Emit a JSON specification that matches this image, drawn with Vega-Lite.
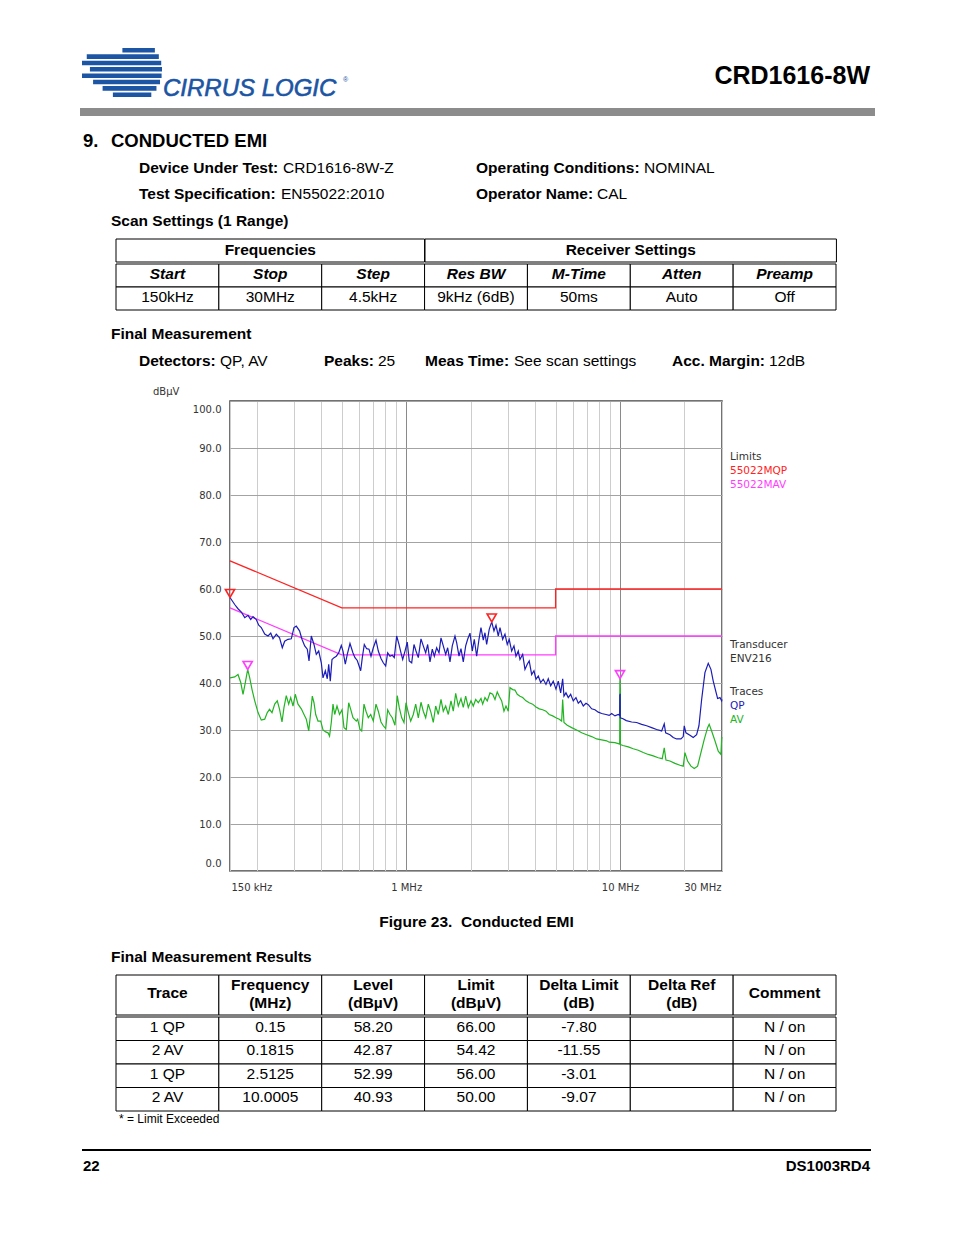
{
"$schema": "https://vega.github.io/schema/vega-lite/v6.json",
"padding": 0,
"spacing": 0,
"background": "white",
"config": {
  "view": {"stroke": null},
  "concat": {"spacing": 0},
  "text": {"font": "Liberation Sans", "fontSize": 15.5, "color": "#000000", "align": "left", "baseline": "bottom"},
  "axis": {"labelFont": "DejaVu Sans", "labelFontSize": 10, "labelColor": "#333333"}
},
"datasets": {
  "logo": [
    {"stripe": 1, "start": 51, "end": 92},
    {"stripe": 2, "start": 6, "end": 97},
    {"stripe": 3, "start": 0, "end": 100},
    {"stripe": 4, "start": 10, "end": 101},
    {"stripe": 5, "start": 0, "end": 100.5},
    {"stripe": 6, "start": 14, "end": 98.5},
    {"stripe": 7, "start": 26, "end": 94},
    {"stripe": 8, "start": 39, "end": 87.5}
  ],
  "results": [
    {"n": 1, "Trace": "1 QP", "Frequency": "0.15", "Level": "58.20", "Limit": "66.00", "Delta Limit": "-7.80", "Delta Ref": "", "Comment": "N / on"},
    {"n": 2, "Trace": "2 AV", "Frequency": "0.1815", "Level": "42.87", "Limit": "54.42", "Delta Limit": "-11.55", "Delta Ref": "", "Comment": "N / on"},
    {"n": 3, "Trace": "1 QP", "Frequency": "2.5125", "Level": "52.99", "Limit": "56.00", "Delta Limit": "-3.01", "Delta Ref": "", "Comment": "N / on"},
    {"n": 4, "Trace": "2 AV", "Frequency": "10.0005", "Level": "40.93", "Limit": "50.00", "Delta Limit": "-9.07", "Delta Ref": "", "Comment": "N / on"}
  ],
  "limits": [
    {"series": "55022MQP", "i": 1, "f": 0.15, "dB": 66},
    {"series": "55022MQP", "i": 2, "f": 0.5, "dB": 56},
    {"series": "55022MQP", "i": 3, "f": 5, "dB": 56},
    {"series": "55022MQP", "i": 4, "f": 5, "dB": 60},
    {"series": "55022MQP", "i": 5, "f": 30, "dB": 60},
    {"series": "55022MAV", "i": 1, "f": 0.15, "dB": 56},
    {"series": "55022MAV", "i": 2, "f": 0.5, "dB": 46},
    {"series": "55022MAV", "i": 3, "f": 5, "dB": 46},
    {"series": "55022MAV", "i": 4, "f": 5, "dB": 50},
    {"series": "55022MAV", "i": 5, "f": 30, "dB": 50}
  ],
  "peaks": [
    {"trace": "1 QP", "series": "55022MQP", "f": 0.15, "dB": 58.2},
    {"trace": "2 AV", "series": "55022MAV", "f": 0.1815, "dB": 42.87},
    {"trace": "1 QP", "series": "55022MQP", "f": 2.5125, "dB": 52.99},
    {"trace": "2 AV", "series": "55022MAV", "f": 10.0005, "dB": 40.93}
  ],
  "chartlabels": [
    {"text": "Limits", "line": 0, "dB": 90, "series": "info"},
    {"text": "55022MQP", "line": 1, "dB": 90, "series": "55022MQP"},
    {"text": "55022MAV", "line": 2, "dB": 90, "series": "55022MAV"},
    {"text": "Transducer", "line": 0, "dB": 50, "series": "info"},
    {"text": "ENV216", "line": 1, "dB": 50, "series": "info"},
    {"text": "Traces", "line": 0, "dB": 40, "series": "info"},
    {"text": "QP", "line": 1, "dB": 40, "series": "QP"},
    {"text": "AV", "line": 2, "dB": 40, "series": "AV"}
  ],
  "traces": [
    {"series":"AV","f":0.15,"dB":41.1},{"series":"AV","f":0.1578,"dB":41.3},{"series":"AV","f":0.1635,"dB":41.8},{"series":"AV","f":0.1684,"dB":40.1},{"series":"AV","f":0.1726,"dB":37.6},{"series":"AV","f":0.1769,"dB":40.1},{"series":"AV","f":0.1815,"dB":42.9},{"series":"AV","f":0.1855,"dB":41.1},{"series":"AV","f":0.1902,"dB":38.6},{"series":"AV","f":0.1958,"dB":36.2},
    {"series":"AV","f":0.2029,"dB":33.7},{"series":"AV","f":0.2101,"dB":32.1},{"series":"AV","f":0.218,"dB":32.3},{"series":"AV","f":0.2241,"dB":33.7},{"series":"AV","f":0.2296,"dB":34.4},{"series":"AV","f":0.2358,"dB":33.7},{"series":"AV","f":0.2428,"dB":35.5},{"series":"AV","f":0.2496,"dB":36.2},{"series":"AV","f":0.2558,"dB":34.4},{"series":"AV","f":0.2626,"dB":31.7},
    {"series":"AV","f":0.2683,"dB":34.8},{"series":"AV","f":0.275,"dB":37.3},{"series":"AV","f":0.2822,"dB":35.5},{"series":"AV","f":0.2884,"dB":36.9},{"series":"AV","f":0.2956,"dB":35.1},{"series":"AV","f":0.303,"dB":37.6},{"series":"AV","f":0.312,"dB":35.5},{"series":"AV","f":0.3233,"dB":34.5},{"series":"AV","f":0.3328,"dB":33.3},{"series":"AV","f":0.3412,"dB":32.3},
    {"series":"AV","f":0.3501,"dB":29.8},{"series":"AV","f":0.3577,"dB":33.7},{"series":"AV","f":0.3639,"dB":37.2},{"series":"AV","f":0.3706,"dB":35.8},{"series":"AV","f":0.3775,"dB":33.3},{"series":"AV","f":0.387,"dB":31.9},{"series":"AV","f":0.3984,"dB":31.9},{"series":"AV","f":0.4084,"dB":30.0},{"series":"AV","f":0.4204,"dB":29.6},{"series":"AV","f":0.431,"dB":29.4},
    {"series":"AV","f":0.4382,"dB":28.7},{"series":"AV","f":0.4465,"dB":31.6},{"series":"AV","f":0.4548,"dB":35.5},{"series":"AV","f":0.4632,"dB":33.3},{"series":"AV","f":0.4748,"dB":35.1},{"series":"AV","f":0.488,"dB":33.3},{"series":"AV","f":0.5011,"dB":34.3},{"series":"AV","f":0.512,"dB":30.5},{"series":"AV","f":0.5248,"dB":30.1},{"series":"AV","f":0.5386,"dB":35.8},
    {"series":"AV","f":0.5503,"dB":34.4},{"series":"AV","f":0.5641,"dB":32.6},{"series":"AV","f":0.5844,"dB":31.9},{"series":"AV","f":0.5931,"dB":32.3},{"series":"AV","f":0.6082,"dB":30.1},{"series":"AV","f":0.6195,"dB":29.8},{"series":"AV","f":0.635,"dB":35.5},{"series":"AV","f":0.6488,"dB":34.0},{"series":"AV","f":0.6651,"dB":32.6},{"series":"AV","f":0.6825,"dB":33.3},
    {"series":"AV","f":0.7019,"dB":31.9},{"series":"AV","f":0.7226,"dB":35.5},{"series":"AV","f":0.7408,"dB":34.0},{"series":"AV","f":0.7626,"dB":31.7},{"series":"AV","f":0.7816,"dB":30.9},{"series":"AV","f":0.8021,"dB":30.3},{"series":"AV","f":0.8194,"dB":34.3},{"series":"AV","f":0.8401,"dB":33.3},{"series":"AV","f":0.8612,"dB":32.6},{"series":"AV","f":0.8866,"dB":31.0},
    {"series":"AV","f":0.9086,"dB":37.3},{"series":"AV","f":0.928,"dB":34.8},{"series":"AV","f":0.953,"dB":32.6},{"series":"AV","f":0.9769,"dB":31.6},{"series":"AV","f":0.9982,"dB":35.8},{"series":"AV","f":1.0233,"dB":33.7},{"series":"AV","f":1.05,"dB":31.9},{"series":"AV","f":1.0797,"dB":33.3},{"series":"AV","f":1.1081,"dB":35.5},{"series":"AV","f":1.1397,"dB":32.6},
    {"series":"AV","f":1.1731,"dB":35.9},{"series":"AV","f":1.2024,"dB":34.0},{"series":"AV","f":1.234,"dB":32.6},{"series":"AV","f":1.2691,"dB":35.5},{"series":"AV","f":1.3065,"dB":33.7},{"series":"AV","f":1.3392,"dB":31.6},{"series":"AV","f":1.3743,"dB":35.1},{"series":"AV","f":1.4135,"dB":33.3},{"series":"AV","f":1.455,"dB":36.5},{"series":"AV","f":1.4914,"dB":34.0},
    {"series":"AV","f":1.5305,"dB":35.1},{"series":"AV","f":1.5741,"dB":33.3},{"series":"AV","f":1.6203,"dB":36.2},{"series":"AV","f":1.6609,"dB":34.0},{"series":"AV","f":1.7045,"dB":37.8},{"series":"AV","f":1.753,"dB":35.1},{"series":"AV","f":1.8045,"dB":36.7},{"series":"AV","f":1.8497,"dB":34.8},{"series":"AV","f":1.8982,"dB":37.2},{"series":"AV","f":1.9523,"dB":34.8},
    {"series":"AV","f":2.0097,"dB":36.2},{"series":"AV","f":2.06,"dB":35.1},{"series":"AV","f":2.1141,"dB":36.5},{"series":"AV","f":2.1743,"dB":35.8},{"series":"AV","f":2.2381,"dB":36.7},{"series":"AV","f":2.2795,"dB":35.5},{"series":"AV","f":2.3366,"dB":36.9},{"series":"AV","f":2.3947,"dB":36.2},{"series":"AV","f":2.4659,"dB":37.9},{"series":"AV","f":2.5386,"dB":37.6},
    {"series":"AV","f":2.6023,"dB":36.5},{"series":"AV","f":2.6669,"dB":38.1},{"series":"AV","f":2.7238,"dB":37.2},{"series":"AV","f":2.797,"dB":36.2},{"series":"AV","f":2.867,"dB":34.0},{"series":"AV","f":2.9296,"dB":35.1},{"series":"AV","f":3.0032,"dB":34.0},{"series":"AV","f":3.0584,"dB":39.0},{"series":"AV","f":3.1486,"dB":38.6},{"series":"AV","f":3.2275,"dB":38.5},
    {"series":"AV","f":3.3076,"dB":37.6},{"series":"AV","f":3.4061,"dB":37.2},{"series":"AV","f":3.5066,"dB":36.9},{"series":"AV","f":3.6336,"dB":36.2},{"series":"AV","f":3.7624,"dB":35.8},{"series":"AV","f":3.9052,"dB":35.5},{"series":"AV","f":4.0467,"dB":34.9},{"series":"AV","f":4.1931,"dB":34.5},{"series":"AV","f":4.3491,"dB":34.3},{"series":"AV","f":4.5067,"dB":34.0},
    {"series":"AV","f":4.6664,"dB":33.3},{"series":"AV","f":4.8436,"dB":33.0},{"series":"AV","f":5.0191,"dB":32.6},{"series":"AV","f":5.2007,"dB":32.3},{"series":"AV","f":5.3365,"dB":31.9},{"series":"AV","f":5.3942,"dB":36.5},{"series":"AV","f":5.4702,"dB":31.6},{"series":"AV","f":5.6666,"dB":31.0},{"series":"AV","f":5.9432,"dB":30.5},{"series":"AV","f":6.2699,"dB":30.0},
    {"series":"AV","f":6.6189,"dB":29.4},{"series":"AV","f":6.9828,"dB":29.0},{"series":"AV","f":7.3713,"dB":28.6},{"series":"AV","f":7.7766,"dB":28.1},{"series":"AV","f":8.2092,"dB":27.9},{"series":"AV","f":8.6606,"dB":27.7},{"series":"AV","f":8.9032,"dB":27.4},{"series":"AV","f":9.4727,"dB":27.3},{"series":"AV","f":9.8165,"dB":27.1},{"series":"AV","f":9.97,"dB":27.0},
    {"series":"AV","f":9.985,"dB":39.5},{"series":"AV","f":10.0005,"dB":40.9},{"series":"AV","f":10.015,"dB":27.5},{"series":"AV","f":10.03,"dB":39.0},{"series":"AV","f":10.045,"dB":26.9},{"series":"AV","f":10.33,"dB":26.7},{"series":"AV","f":10.932,"dB":26.4},{"series":"AV","f":11.535,"dB":26.0},{"series":"AV","f":12.175,"dB":25.7},{"series":"AV","f":12.847,"dB":25.2},
    {"series":"AV","f":13.559,"dB":24.8},{"series":"AV","f":14.306,"dB":24.5},{"series":"AV","f":15.1,"dB":24.1},{"series":"AV","f":15.764,"dB":23.9},{"series":"AV","f":16.108,"dB":26.2},{"series":"AV","f":16.405,"dB":23.6},{"series":"AV","f":17.126,"dB":23.4},{"series":"AV","f":18.073,"dB":22.9},{"series":"AV","f":19.073,"dB":22.5},{"series":"AV","f":19.762,"dB":22.3},
    {"series":"AV","f":20.128,"dB":25.2},{"series":"AV","f":20.715,"dB":23.4},{"series":"AV","f":21.471,"dB":22.3},{"series":"AV","f":22.25,"dB":21.8},{"series":"AV","f":23.07,"dB":22.3},{"series":"AV","f":23.912,"dB":25.2},{"series":"AV","f":24.78,"dB":28.0},{"series":"AV","f":25.693,"dB":30.5},{"series":"AV","f":26.13,"dB":31.2},{"series":"AV","f":26.832,"dB":29.8},
    {"series":"AV","f":27.802,"dB":27.7},{"series":"AV","f":28.811,"dB":25.5},{"series":"AV","f":29.657,"dB":24.8},{"series":"AV","f":29.883,"dB":28.1},{"series":"AV","f":30.0,"dB":28.5},
    {"series":"QP","f":0.15,"dB":58.2},{"series":"QP","f":0.1578,"dB":56.7},{"series":"QP","f":0.1635,"dB":55.8},{"series":"QP","f":0.1695,"dB":55.1},{"series":"QP","f":0.1758,"dB":53.9},{"series":"QP","f":0.1821,"dB":54.4},{"series":"QP","f":0.1875,"dB":53.5},{"series":"QP","f":0.1922,"dB":54.1},{"series":"QP","f":0.1991,"dB":53.5},{"series":"QP","f":0.2044,"dB":52.3},
    {"series":"QP","f":0.2101,"dB":51.8},{"series":"QP","f":0.218,"dB":50.4},{"series":"QP","f":0.2259,"dB":50.0},{"series":"QP","f":0.2326,"dB":50.6},{"series":"QP","f":0.2384,"dB":49.4},{"series":"QP","f":0.247,"dB":50.4},{"series":"QP","f":0.2558,"dB":49.6},{"series":"QP","f":0.2634,"dB":47.5},{"series":"QP","f":0.2703,"dB":48.9},{"series":"QP","f":0.2801,"dB":49.3},
    {"series":"QP","f":0.2902,"dB":49.4},{"series":"QP","f":0.2988,"dB":51.8},{"series":"QP","f":0.3063,"dB":52.1},{"series":"QP","f":0.3172,"dB":51.1},{"series":"QP","f":0.3257,"dB":49.3},{"series":"QP","f":0.3353,"dB":47.9},{"series":"QP","f":0.3448,"dB":47.2},{"series":"QP","f":0.3513,"dB":44.7},{"series":"QP","f":0.36,"dB":50.0},{"series":"QP","f":0.3706,"dB":48.2},
    {"series":"QP","f":0.3799,"dB":46.1},{"series":"QP","f":0.3899,"dB":46.8},{"series":"QP","f":0.401,"dB":44.3},{"series":"QP","f":0.4084,"dB":41.1},{"series":"QP","f":0.4187,"dB":42.6},{"series":"QP","f":0.4276,"dB":40.9},{"series":"QP","f":0.4342,"dB":44.0},{"series":"QP","f":0.4417,"dB":40.4},{"series":"QP","f":0.4499,"dB":45.0},{"series":"QP","f":0.4597,"dB":45.4},
    {"series":"QP","f":0.4712,"dB":45.7},{"series":"QP","f":0.4835,"dB":46.4},{"series":"QP","f":0.4973,"dB":48.0},{"series":"QP","f":0.5065,"dB":46.8},{"series":"QP","f":0.5192,"dB":44.0},{"series":"QP","f":0.5304,"dB":46.1},{"series":"QP","f":0.5461,"dB":48.4},{"series":"QP","f":0.5641,"dB":46.4},{"series":"QP","f":0.5763,"dB":45.4},{"series":"QP","f":0.5906,"dB":44.8},
    {"series":"QP","f":0.6128,"dB":42.6},{"series":"QP","f":0.6235,"dB":45.4},{"series":"QP","f":0.6371,"dB":48.2},{"series":"QP","f":0.6535,"dB":47.3},{"series":"QP","f":0.6701,"dB":47.2},{"series":"QP","f":0.6847,"dB":45.7},{"series":"QP","f":0.7019,"dB":47.5},{"series":"QP","f":0.7226,"dB":49.1},{"series":"QP","f":0.7408,"dB":46.8},{"series":"QP","f":0.7626,"dB":45.2},
    {"series":"QP","f":0.7816,"dB":44.3},{"series":"QP","f":0.8021,"dB":43.6},{"series":"QP","f":0.8194,"dB":46.4},{"series":"QP","f":0.8401,"dB":45.7},{"series":"QP","f":0.8612,"dB":45.9},{"series":"QP","f":0.88,"dB":45.4},{"series":"QP","f":0.9027,"dB":50.0},{"series":"QP","f":0.9256,"dB":48.2},{"series":"QP","f":0.9458,"dB":46.4},{"series":"QP","f":0.9633,"dB":45.0},
    {"series":"QP","f":0.9875,"dB":46.8},{"series":"QP","f":1.0119,"dB":48.7},{"series":"QP","f":1.0336,"dB":44.7},{"series":"QP","f":1.0614,"dB":44.3},{"series":"QP","f":1.088,"dB":48.2},{"series":"QP","f":1.1117,"dB":46.8},{"series":"QP","f":1.1397,"dB":45.4},{"series":"QP","f":1.1731,"dB":49.4},{"series":"QP","f":1.2024,"dB":47.9},{"series":"QP","f":1.234,"dB":46.4},
    {"series":"QP","f":1.2604,"dB":48.2},{"series":"QP","f":1.2925,"dB":44.5},{"series":"QP","f":1.3249,"dB":47.2},{"series":"QP","f":1.3539,"dB":45.7},{"series":"QP","f":1.3888,"dB":47.5},{"series":"QP","f":1.4241,"dB":46.4},{"series":"QP","f":1.455,"dB":49.6},{"series":"QP","f":1.4914,"dB":47.9},{"series":"QP","f":1.5305,"dB":46.1},{"series":"QP","f":1.5633,"dB":47.5},
    {"series":"QP","f":1.603,"dB":44.5},{"series":"QP","f":1.6432,"dB":47.9},{"series":"QP","f":1.6917,"dB":50.0},{"series":"QP","f":1.7224,"dB":48.6},{"series":"QP","f":1.7662,"dB":45.7},{"series":"QP","f":1.8045,"dB":47.3},{"series":"QP","f":1.8497,"dB":44.5},{"series":"QP","f":1.8982,"dB":47.9},{"series":"QP","f":1.9389,"dB":49.3},{"series":"QP","f":1.9882,"dB":50.6},
    {"series":"QP","f":2.0381,"dB":46.8},{"series":"QP","f":2.0827,"dB":49.3},{"series":"QP","f":2.1363,"dB":45.7},{"series":"QP","f":2.1906,"dB":49.3},{"series":"QP","f":2.2381,"dB":51.8},{"series":"QP","f":2.2941,"dB":49.1},{"series":"QP","f":2.3366,"dB":50.7},{"series":"QP","f":2.3792,"dB":48.2},{"series":"QP","f":2.4458,"dB":51.4},{"series":"QP","f":2.5125,"dB":53.0},
    {"series":"QP","f":2.5744,"dB":51.1},{"series":"QP","f":2.6306,"dB":52.3},{"series":"QP","f":2.6967,"dB":50.0},{"series":"QP","f":2.7462,"dB":51.8},{"series":"QP","f":2.8272,"dB":49.3},{"series":"QP","f":2.8981,"dB":50.4},{"series":"QP","f":2.97,"dB":48.2},{"series":"QP","f":3.0334,"dB":49.3},{"series":"QP","f":3.115,"dB":46.8},{"series":"QP","f":3.1931,"dB":47.9},
    {"series":"QP","f":3.2627,"dB":45.7},{"series":"QP","f":3.3447,"dB":46.8},{"series":"QP","f":3.4061,"dB":45.0},{"series":"QP","f":3.5066,"dB":46.1},{"series":"QP","f":3.5945,"dB":42.9},{"series":"QP","f":3.6837,"dB":44.0},{"series":"QP","f":3.7624,"dB":44.7},{"series":"QP","f":3.8635,"dB":41.8},{"series":"QP","f":3.9602,"dB":42.6},{"series":"QP","f":4.0467,"dB":40.8},
    {"series":"QP","f":4.1484,"dB":41.5},{"series":"QP","f":4.2566,"dB":40.1},{"series":"QP","f":4.377,"dB":40.8},{"series":"QP","f":4.5067,"dB":39.7},{"series":"QP","f":4.6199,"dB":40.9},{"series":"QP","f":4.7406,"dB":39.4},{"series":"QP","f":4.8746,"dB":40.4},{"series":"QP","f":5.0191,"dB":38.7},{"series":"QP","f":5.1452,"dB":40.4},{"series":"QP","f":5.2794,"dB":37.9},
    {"series":"QP","f":5.3942,"dB":40.9},{"series":"QP","f":5.4702,"dB":37.2},{"series":"QP","f":5.5896,"dB":37.9},{"series":"QP","f":5.73,"dB":36.9},{"series":"QP","f":5.8795,"dB":37.6},{"series":"QP","f":6.0459,"dB":36.2},{"series":"QP","f":6.225,"dB":36.9},{"series":"QP","f":6.3814,"dB":35.7},{"series":"QP","f":6.548,"dB":36.2},{"series":"QP","f":6.7332,"dB":35.1},
    {"series":"QP","f":6.9327,"dB":35.7},{"series":"QP","f":7.1069,"dB":35.4},{"series":"QP","f":7.3713,"dB":34.5},{"series":"QP","f":7.6377,"dB":34.3},{"series":"QP","f":7.915,"dB":33.8},{"series":"QP","f":8.2092,"dB":33.5},{"series":"QP","f":8.5985,"dB":33.3},{"series":"QP","f":8.9032,"dB":33.1},{"series":"QP","f":9.1424,"dB":33.5},{"series":"QP","f":9.4727,"dB":33.0},
    {"series":"QP","f":9.8165,"dB":33.3},{"series":"QP","f":9.97,"dB":33.1},{"series":"QP","f":9.985,"dB":37.5},{"series":"QP","f":10.0005,"dB":32.9},{"series":"QP","f":10.015,"dB":37.7},{"series":"QP","f":10.03,"dB":32.6},{"series":"QP","f":10.33,"dB":32.4},{"series":"QP","f":10.705,"dB":32.0},{"series":"QP","f":11.339,"dB":31.7},{"series":"QP","f":11.962,"dB":31.6},
    {"series":"QP","f":12.628,"dB":31.2},{"series":"QP","f":13.323,"dB":30.9},{"series":"QP","f":14.063,"dB":30.5},{"series":"QP","f":14.837,"dB":30.1},{"series":"QP","f":15.663,"dB":29.8},{"series":"QP","f":16.108,"dB":31.3},{"series":"QP","f":16.351,"dB":29.4},{"series":"QP","f":17.126,"dB":29.0},{"series":"QP","f":17.744,"dB":28.4},{"series":"QP","f":18.402,"dB":28.1},
    {"series":"QP","f":19.279,"dB":28.1},{"series":"QP","f":19.762,"dB":28.6},{"series":"QP","f":19.979,"dB":30.9},{"series":"QP","f":20.347,"dB":29.4},{"series":"QP","f":21.241,"dB":28.9},{"series":"QP","f":22.008,"dB":28.4},{"series":"QP","f":22.824,"dB":29.0},{"series":"QP","f":23.403,"dB":30.9},{"series":"QP","f":24.094,"dB":36.5},{"series":"QP","f":24.964,"dB":42.2},
    {"series":"QP","f":25.87,"dB":44.2},{"series":"QP","f":26.63,"dB":42.9},{"series":"QP","f":27.296,"dB":40.4},{"series":"QP","f":28.104,"dB":38.1},{"series":"QP","f":28.613,"dB":36.7},{"series":"QP","f":29.34,"dB":36.9},{"series":"QP","f":29.883,"dB":36.2},{"series":"QP","f":30.0,"dB":36.5}
  ]
},
"vconcat": [
  {"width": 954, "height": 48, "data": {"values": []}, "mark": "point"},
  {"hconcat": [
    {"width": 82, "height": 53, "data": {"values": []}, "mark": "point"},
    {"width": 80, "height": 49, "data": {"name": "logo"}, "mark": {"type": "bar", "color": "#1b55a3"},
     "encoding": {
       "y": {"field": "stripe", "type": "ordinal", "scale": {"type": "band", "paddingInner": 0.28, "paddingOuter": 0}, "axis": null},
       "x": {"field": "start", "type": "quantitative", "scale": {"domain": [0, 101]}, "axis": null},
       "x2": {"field": "end"}
     }},
    {"width": 1, "height": 53, "data": {"values": [{"text": "CIRRUS LOGIC"}]}, "mark": {"type": "text", "x": "width", "y": "height", "fontSize": 24, "fontStyle": "italic", "color": "#1b55a3", "stroke": "#1b55a3", "strokeWidth": 0.6}, "encoding": {"text": {"field": "text"}}},
    {"width": 180, "height": 53, "data": {"values": [{"text": "®"}]}, "mark": {"type": "text", "x": "width", "y": "height", "dy": -18, "fontSize": 7, "color": "#1b55a3"}, "encoding": {"text": {"field": "text"}}},
    {"width": 527, "height": 53, "data": {"values": [{"text": "CRD1616-8W"}]}, "mark": {"type": "text", "x": "width", "y": "height", "dy": -12, "align": "right", "fontSize": 25, "fontWeight": "bold"}, "encoding": {"text": {"field": "text"}}}
  ], "bounds": "flush", "spacing": 0},
  {"width": 1, "height": 7, "data": {"values": []}, "mark": "point"},
  {"hconcat": [
    {"width": 80, "height": 8, "data": {"values": []}, "mark": "point"},
    {"width": 795, "height": 8, "data": {"values": [{"part": "header rule"}]}, "mark": {"type": "rect", "color": "#8c8c8c"}}
  ], "bounds": "flush", "spacing": 0},
  {"hconcat": [
    {"width": 83, "height": 35, "data": {"values": [{"text": "9."}]}, "mark": {"type": "text", "x": "width", "y": "height", "fontSize": 18.5, "fontWeight": "bold"}, "encoding": {"text": {"field": "text"}}},
    {"width": 28, "height": 35, "data": {"values": [{"text": "CONDUCTED EMI"}]}, "mark": {"type": "text", "x": "width", "y": "height", "fontSize": 18.5, "fontWeight": "bold"}, "encoding": {"text": {"field": "text"}}}
  ], "bounds": "flush", "spacing": 0},
  {"hconcat": [
    {"width": 139, "height": 24.5, "data": {"values": [{"label": "Device Under Test:", "value": "CRD1616-8W-Z"}]}, "layer": [
      {"mark": {"type": "text", "x": "width", "y": "height", "fontWeight": "bold"}, "encoding": {"text": {"field": "label"}}},
      {"mark": {"type": "text", "x": "width", "y": "height", "dx": 144}, "encoding": {"text": {"field": "value"}}}]},
    {"width": 337, "height": 24.5, "data": {"values": [{"label": "Operating Conditions:", "value": "NOMINAL"}]}, "layer": [
      {"mark": {"type": "text", "x": "width", "y": "height", "fontWeight": "bold"}, "encoding": {"text": {"field": "label"}}},
      {"mark": {"type": "text", "x": "width", "y": "height", "dx": 168}, "encoding": {"text": {"field": "value"}}}]}
  ], "bounds": "flush", "spacing": 0},
  {"hconcat": [
    {"width": 139, "height": 25.5, "data": {"values": [{"label": "Test Specification:", "value": "EN55022:2010"}]}, "layer": [
      {"mark": {"type": "text", "x": "width", "y": "height", "fontWeight": "bold"}, "encoding": {"text": {"field": "label"}}},
      {"mark": {"type": "text", "x": "width", "y": "height", "dx": 142}, "encoding": {"text": {"field": "value"}}}]},
    {"width": 337, "height": 25.5, "data": {"values": [{"label": "Operator Name:", "value": "CAL"}]}, "layer": [
      {"mark": {"type": "text", "x": "width", "y": "height", "fontWeight": "bold"}, "encoding": {"text": {"field": "label"}}},
      {"mark": {"type": "text", "x": "width", "y": "height", "dx": 121}, "encoding": {"text": {"field": "value"}}}]}
  ], "bounds": "flush", "spacing": 0},
  {"width": 111, "height": 26.5, "data": {"values": [{"text": "Scan Settings (1 Range)"}]}, "mark": {"type": "text", "x": "width", "y": "height", "fontWeight": "bold"}, "encoding": {"text": {"field": "text"}}},
  {"width": 1, "height": 9, "data": {"values": []}, "mark": "point"},
  {"hconcat": [
    {"width": 116, "height": 23, "data": {"values": []}, "mark": "point"},
    {"width": 308.57, "height": 23, "data": {"values": [{"text": "Frequencies"}]}, "layer": [
      {"mark": {"type": "rect", "fill": "#ffffff", "stroke": "#000000", "strokeWidth": 1}},
      {"mark": {"type": "text", "align": "center", "baseline": "middle", "fontWeight": "bold", "dy": -1}, "encoding": {"text": {"field": "text"}}}]},
    {"width": 411.43, "height": 23, "data": {"values": [{"text": "Receiver Settings"}]}, "layer": [
      {"mark": {"type": "rect", "fill": "#ffffff", "stroke": "#000000", "strokeWidth": 1}},
      {"mark": {"type": "text", "align": "center", "baseline": "middle", "fontWeight": "bold", "dy": -1}, "encoding": {"text": {"field": "text"}}}]}
  ], "bounds": "flush", "spacing": 0},
  {"hconcat": [
    {"width": 116, "height": 46, "data": {"values": []}, "mark": "point"},
    {"width": 720, "height": 46,
     "data": {"values": [{"Start": "150kHz", "Stop": "30MHz", "Step": "4.5kHz", "Res BW": "9kHz (6dB)", "M-Time": "50ms", "Atten": "Auto", "Preamp": "Off"}]},
     "transform": [{"fold": ["Start", "Stop", "Step", "Res BW", "M-Time", "Atten", "Preamp"], "as": ["key", "value"]}],
     "encoding": {"x": {"field": "key", "type": "nominal", "sort": null, "scale": {"type": "band", "domain": ["Start", "Stop", "Step", "Res BW", "M-Time", "Atten", "Preamp"], "paddingInner": 0, "paddingOuter": 0}, "axis": null}},
     "layer": [
       {"mark": {"type": "rect", "fill": "#ffffff", "stroke": "#000000", "strokeWidth": 1}, "encoding": {"y": {"datum": "name", "type": "nominal", "scale": {"type": "band", "domain": ["name", "value"], "paddingInner": 0, "paddingOuter": 0}, "axis": null}}},
       {"mark": {"type": "rect", "fill": "#ffffff", "stroke": "#000000", "strokeWidth": 1}, "encoding": {"y": {"datum": "value", "type": "nominal"}}},
       {"mark": {"type": "text", "align": "center", "baseline": "middle", "fontWeight": "bold", "fontStyle": "italic", "dy": -2}, "encoding": {"y": {"datum": "name", "type": "nominal"}, "text": {"field": "key"}}},
       {"mark": {"type": "text", "align": "center", "baseline": "middle", "dy": -2}, "encoding": {"y": {"datum": "value", "type": "nominal"}, "text": {"field": "value"}}}
     ]}
  ], "bounds": "flush", "spacing": 0},
  {"width": 111, "height": 30.5, "data": {"values": [{"text": "Final Measurement"}]}, "mark": {"type": "text", "x": "width", "y": "height", "fontWeight": "bold"}, "encoding": {"text": {"field": "text"}}},
  {"hconcat": [
    {"width": 139, "height": 26.5, "data": {"values": [{"label": "Detectors:", "value": "QP, AV"}]}, "layer": [
      {"mark": {"type": "text", "x": "width", "y": "height", "fontWeight": "bold"}, "encoding": {"text": {"field": "label"}}},
      {"mark": {"type": "text", "x": "width", "y": "height", "dx": 81}, "encoding": {"text": {"field": "value"}}}]},
    {"width": 185, "height": 26.5, "data": {"values": [{"label": "Peaks:", "value": "25"}]}, "layer": [
      {"mark": {"type": "text", "x": "width", "y": "height", "fontWeight": "bold"}, "encoding": {"text": {"field": "label"}}},
      {"mark": {"type": "text", "x": "width", "y": "height", "dx": 54}, "encoding": {"text": {"field": "value"}}}]},
    {"width": 101, "height": 26.5, "data": {"values": [{"label": "Meas Time:", "value": "See scan settings"}]}, "layer": [
      {"mark": {"type": "text", "x": "width", "y": "height", "fontWeight": "bold"}, "encoding": {"text": {"field": "label"}}},
      {"mark": {"type": "text", "x": "width", "y": "height", "dx": 89}, "encoding": {"text": {"field": "value"}}}]},
    {"width": 247, "height": 26.5, "data": {"values": [{"label": "Acc. Margin:", "value": "12dB"}]}, "layer": [
      {"mark": {"type": "text", "x": "width", "y": "height", "fontWeight": "bold"}, "encoding": {"text": {"field": "label"}}},
      {"mark": {"type": "text", "x": "width", "y": "height", "dx": 97}, "encoding": {"text": {"field": "value"}}}]}
  ], "bounds": "flush", "spacing": 0},
  {"width": 153, "height": 31, "data": {"values": [{"text": "dBµV"}]}, "mark": {"type": "text", "x": "width", "y": "height", "dy": -3, "font": "DejaVu Sans", "fontSize": 10, "color": "#333333"}, "encoding": {"text": {"field": "text"}}},
  {"hconcat": [
    {"width": 230, "height": 470, "data": {"values": []}, "mark": "point"},
    {"width": 492, "height": 470,
     "view": {"stroke": "#444444", "strokeWidth": 1.5},
     "encoding": {
       "y": {"field": "dB", "type": "quantitative",
             "scale": {"domain": [0, 100], "nice": false},
             "axis": {"title": null, "values": [0, 10, 20, 30, 40, 50, 60, 70, 80, 90, 100], "format": ".1f",
                      "grid": true, "gridColor": "#a3a3a3", "ticks": false, "domain": false, "labelPadding": 9,
                      "labelFlush": true, "labelFlushOffset": -3, "labelOverlap": false}},
       "color": {"field": "series", "type": "nominal",
                 "scale": {"domain": ["55022MQP", "55022MAV", "QP", "AV", "info"], "range": ["#ff2222", "#ff3cff", "#1c1cb8", "#22b422", "#333333"]},
                 "legend": null}
     },
     "layer": [
       {"data": {"name": "limits"}, "mark": {"type": "line", "strokeWidth": 1.3},
        "encoding": {
          "x": {"field": "f", "type": "quantitative", "title": null,
                "scale": {"type": "log", "domain": [0.15, 30], "nice": false},
                "axis": {"title": null, "values": [0.15, 0.2, 0.3, 0.4, 0.5, 0.6, 0.7, 0.8, 0.9, 1, 2, 3, 4, 5, 6, 7, 8, 9, 10, 20, 30],
                         "labelExpr": "datum.value == 0.15 ? '150 kHz' : datum.value == 1 ? '1 MHz' : datum.value == 10 ? '10 MHz' : datum.value == 30 ? '30 MHz' : ''",
                         "grid": true, "gridColor": {"condition": {"test": "datum.value == 1 || datum.value == 10", "value": "#8a8a8a"}, "value": "#cdcdcd"},
                         "ticks": false, "domain": false, "labelPadding": 11, "labelFlush": true, "labelFlushOffset": -1, "labelOverlap": false, "labelBound": false}},
          "order": {"field": "i", "type": "quantitative"}}},
       {"data": {"name": "traces"}, "mark": {"type": "line", "strokeWidth": 1.2},
        "encoding": {"x": {"field": "f", "type": "quantitative", "title": null}}},
       {"data": {"name": "peaks"}, "mark": {"type": "point", "shape": "triangle-down", "size": 85, "filled": false, "strokeWidth": 1.6, "yOffset": -4, "opacity": 1},
        "encoding": {"x": {"field": "f", "type": "quantitative", "title": null}}},
       {"data": {"name": "chartlabels"}, "transform": [{"filter": "datum.line == 0"}],
        "mark": {"type": "text", "x": "width", "font": "DejaVu Sans", "fontSize": 10.5, "align": "left", "baseline": "alphabetic", "dx": 8, "dy": 12},
        "encoding": {"text": {"field": "text"}}},
       {"data": {"name": "chartlabels"}, "transform": [{"filter": "datum.line == 1"}],
        "mark": {"type": "text", "x": "width", "font": "DejaVu Sans", "fontSize": 10.5, "align": "left", "baseline": "alphabetic", "dx": 8, "dy": 26},
        "encoding": {"text": {"field": "text"}}},
       {"data": {"name": "chartlabels"}, "transform": [{"filter": "datum.line == 2"}],
        "mark": {"type": "text", "x": "width", "font": "DejaVu Sans", "fontSize": 10.5, "align": "left", "baseline": "alphabetic", "dx": 8, "dy": 40},
        "encoding": {"text": {"field": "text"}}}
     ]}
  ], "bounds": "flush", "spacing": 0},
  {"width": 953, "height": 36.5, "data": {"values": [{"text": "Figure 23.\u00a0 Conducted EMI"}]}, "mark": {"type": "text", "y": "height", "align": "center", "fontWeight": "bold"}, "encoding": {"text": {"field": "text"}}},
  {"width": 111, "height": 34.5, "data": {"values": [{"text": "Final Measurement Results"}]}, "mark": {"type": "text", "x": "width", "y": "height", "fontWeight": "bold"}, "encoding": {"text": {"field": "text"}}},
  {"width": 1, "height": 9, "data": {"values": []}, "mark": "point"},
  {"hconcat": [
    {"width": 116, "height": 40, "data": {"values": []}, "mark": "point"},
    {"width": 720, "height": 40,
     "data": {"values": [
       {"key": "Trace", "label": "Trace", "lines": 1},
       {"key": "Frequency", "label": "Frequency\n(MHz)", "lines": 2},
       {"key": "Level", "label": "Level\n(dBµV)", "lines": 2},
       {"key": "Limit", "label": "Limit\n(dBµV)", "lines": 2},
       {"key": "Delta Limit", "label": "Delta Limit\n(dB)", "lines": 2},
       {"key": "Delta Ref", "label": "Delta Ref\n(dB)", "lines": 2},
       {"key": "Comment", "label": "Comment", "lines": 1}]},
     "encoding": {"x": {"field": "key", "type": "nominal", "sort": null, "scale": {"type": "band", "domain": ["Trace", "Frequency", "Level", "Limit", "Delta Limit", "Delta Ref", "Comment"], "paddingInner": 0, "paddingOuter": 0}, "axis": null}},
     "layer": [
       {"mark": {"type": "rect", "fill": "#ffffff", "stroke": "#000000", "strokeWidth": 1}},
       {"transform": [{"filter": "datum.lines == 1"}],
        "mark": {"type": "text", "align": "center", "baseline": "middle", "fontWeight": "bold", "dy": -2}, "encoding": {"text": {"field": "label"}}},
       {"transform": [{"filter": "datum.lines == 2"}],
        "mark": {"type": "text", "align": "center", "baseline": "middle", "fontWeight": "bold", "lineBreak": "\n", "lineHeight": 18, "dy": -10}, "encoding": {"text": {"field": "label"}}}
     ]}
  ], "bounds": "flush", "spacing": 0},
  {"hconcat": [
    {"width": 116, "height": 94, "data": {"values": []}, "mark": "point"},
    {"width": 720, "height": 94,
     "data": {"name": "results"},
     "transform": [{"fold": ["Trace", "Frequency", "Level", "Limit", "Delta Limit", "Delta Ref", "Comment"], "as": ["key", "value"]}],
     "encoding": {
       "x": {"field": "key", "type": "nominal", "sort": null, "scale": {"type": "band", "domain": ["Trace", "Frequency", "Level", "Limit", "Delta Limit", "Delta Ref", "Comment"], "paddingInner": 0, "paddingOuter": 0}, "axis": null},
       "y": {"field": "n", "type": "ordinal", "scale": {"type": "band", "paddingInner": 0, "paddingOuter": 0}, "axis": null}},
     "layer": [
       {"mark": {"type": "rect", "fill": "#ffffff", "stroke": "#000000", "strokeWidth": 1}},
       {"mark": {"type": "text", "align": "center", "baseline": "middle", "dy": -2}, "encoding": {"text": {"field": "value"}}}
     ]}
  ], "bounds": "flush", "spacing": 0},
  {"width": 119, "height": 14, "data": {"values": [{"text": "* = Limit Exceeded"}]}, "mark": {"type": "text", "x": "width", "y": "height", "fontSize": 12}, "encoding": {"text": {"field": "text"}}},
  {"width": 1, "height": 23, "data": {"values": []}, "mark": "point"},
  {"hconcat": [
    {"width": 82, "height": 2, "data": {"values": []}, "mark": "point"},
    {"width": 789, "height": 2, "data": {"values": [{"part": "footer rule"}]}, "mark": {"type": "rect", "color": "#000000"}}
  ], "bounds": "flush", "spacing": 0},
  {"hconcat": [
    {"width": 83, "height": 23, "data": {"values": [{"text": "22"}]}, "mark": {"type": "text", "x": "width", "y": "height", "fontSize": 15, "fontWeight": "bold"}, "encoding": {"text": {"field": "text"}}},
    {"width": 787, "height": 23, "data": {"values": [{"text": "DS1003RD4"}]}, "mark": {"type": "text", "x": "width", "y": "height", "align": "right", "fontSize": 15, "fontWeight": "bold"}, "encoding": {"text": {"field": "text"}}}
  ], "bounds": "flush", "spacing": 0},
  {"width": 1, "height": 61, "data": {"values": []}, "mark": "point"}
]
}
